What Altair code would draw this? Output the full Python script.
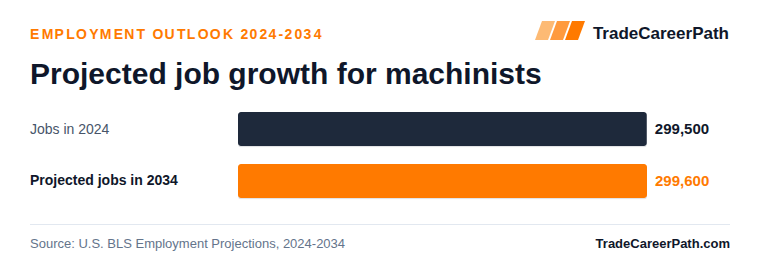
import altair as alt
import pandas as pd

# ---- data ----
categories = ["Jobs in 2024", "Projected jobs in 2034"]
jobs = [299500, 299600]
value_labels = ["299,500", "299,600"]

kicker = "EMPLOYMENT OUTLOOK 2024-2034"
title = "Projected job growth for machinists"
brand = "TradeCareerPath"
source = "Source: U.S. BLS Employment Projections, 2024-2034"
site = "TradeCareerPath.com"

# ---- styles ----
FONT = "Liberation Sans"
DARK = "#1E293B"
ORANGE = "#FF7A00"
INK = "#0F172A"
GRAY = "#475569"
MUTED = "#64748B"
RULE = "#E2E8F0"
LOGO = ["#FDBA74", "#FF9A3D", "#FF7A00"]

df = pd.DataFrame({"category": categories, "jobs": jobs, "label": value_labels})

xs = alt.Scale(domain=[0, max(jobs)], range=[238, 647], nice=False, zero=True)
ys = alt.Scale(domain=categories, range=[112, 198], paddingInner=18 / 52, paddingOuter=0)
cs = alt.Scale(domain=categories, range=[DARK, ORANGE])

base = alt.Chart(df)
X = alt.X("jobs:Q", scale=xs, axis=None)
Y = alt.Y("category:N", scale=ys, axis=None)

shadow = base.mark_bar(cornerRadius=3, yOffset=1.5, color=INK, opacity=0.12).encode(x=X, y=Y)
bars = base.mark_bar(cornerRadius=3).encode(
    x=X, y=Y, color=alt.Color("category:N", scale=cs, legend=None)
)

cat1 = base.transform_filter(alt.datum.category == categories[0]).mark_text(
    align="left", baseline="middle", font=FONT, fontSize=14, color=GRAY, dy=0.5
).encode(x=alt.value(30), y=Y, text="category:N")
cat2 = base.transform_filter(alt.datum.category == categories[1]).mark_text(
    align="left", baseline="middle", font=FONT, fontSize=14, fontWeight="bold", color=INK
).encode(x=alt.value(30), y=Y, text="category:N")

val1 = base.transform_filter(alt.datum.category == categories[0]).mark_text(
    align="left", baseline="middle", font=FONT, fontSize=15, fontWeight="bold", color=INK, dx=8
).encode(x=X, y=Y, text="label:N")
val2 = base.transform_filter(alt.datum.category == categories[1]).mark_text(
    align="left", baseline="middle", font=FONT, fontSize=15, fontWeight="bold", color=ORANGE, dx=8
).encode(x=X, y=Y, text="label:N")

one = alt.Data(values=[{"k": 1}])


def txt(s, x, y, size, color, weight="normal", align="left"):
    return alt.Chart(one).mark_text(
        align=align, baseline="alphabetic", font=FONT, fontSize=size,
        fontWeight=weight, color=color
    ).encode(x=alt.value(x), y=alt.value(y), text=alt.value(s))


# letter-spaced kicker (hair spaces, alternating single/double)
H = "\u200a"
chars = list(kicker)
spaced_kicker = chars[0]
for i, ch in enumerate(chars[1:]):
    spaced_kicker += (H * 2 if i % 2 == 0 else H) + ch

kicker_t = txt(spaced_kicker, 30, 39, 14, ORANGE, "bold")
title_t = txt(title, 30, 84, 30, INK, "bold")
brand_t = txt(brand, 729, 39, 17, INK, "bold", "right")
source_t = txt(source, 30, 248, 13, MUTED)
site_t = txt(site, 730, 248, 13, INK, "bold", "right")

para = "M -1 0.95 L -0.3 -0.95 L 1 -0.95 L 0.3 0.95 Z"
logo = [
    alt.Chart(one).mark_point(shape=para, filled=True, size=400, opacity=1, color=c, strokeWidth=0)
    .encode(x=alt.value(cx), y=alt.value(30.5))
    for c, cx in zip(LOGO, [545, 560, 575])
]

divider = alt.Chart(one).mark_rule(color=RULE, strokeWidth=1).encode(
    x=alt.value(30), x2=alt.value(730), y=alt.value(224.5)
)

chart = alt.layer(
    shadow, bars, cat1, cat2, val1, val2,
    kicker_t, title_t, brand_t, *logo, divider, source_t, site_t
).properties(
    width=760, height=280, padding=0,
    autosize=alt.AutoSizeParams(type="none"),
    background="white",
).configure_view(stroke=None)

chart.save("out.html", embed_options={"renderer": "svg", "actions": False})
